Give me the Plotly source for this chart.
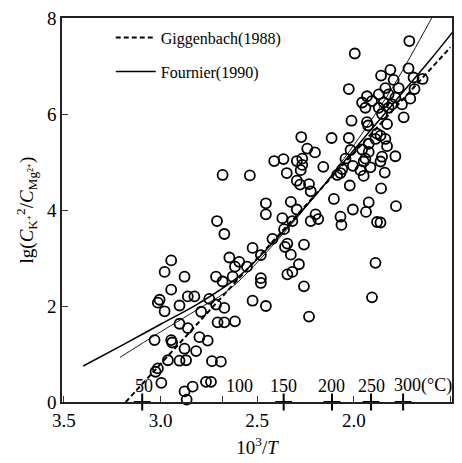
import plotly.graph_objects as go

# ---- data ----
x_pts = [1.713, 1.995, 1.811, 1.717, 1.859, 1.691, 1.644, 1.794, 2.026, 1.686,
         1.837, 1.768, 1.82, 1.871, 1.932, 1.708, 1.785, 1.957, 1.906, 1.845,
         1.803, 1.751, 1.871, 1.82, 1.94, 1.854, 1.742, 2.012, 1.932, 1.926,
         1.828, 1.88, 1.862, 2.115, 2.026, 1.888, 1.837, 1.828, 1.923, 2.017,
         1.957, 1.923, 2.043, 1.94, 1.949, 1.854, 1.862, 1.785, 2.005, 1.914,
         1.966, 2.06, 1.84, 1.949, 2.069, 2.086, 2.021, 1.859, 2.103, 1.923,
         2.005, 1.937, 1.782, 2.069, 2.064, 1.88, 1.862, 1.888, 1.906, 2.272,
         2.241, 2.201, 2.412, 2.364, 2.295, 2.267, 2.267, 2.275, 2.158, 2.679,
         2.538, 2.347, 2.295, 2.232, 2.278, 2.223, 2.455, 2.326, 2.455, 2.295,
         2.37, 2.198, 2.184, 2.223, 2.318, 2.708, 2.67, 2.361, 2.421, 2.344,
         2.356, 2.258, 2.524, 2.326, 2.481, 2.644, 2.593, 2.615, 2.284, 2.553,
         2.318, 2.344, 2.627, 2.713, 2.679, 2.481, 2.481, 2.258, 2.524, 2.455,
         2.713, 2.67, 2.705, 2.67, 2.615, 2.232, 2.734, 2.688, 2.945, 2.979,
         2.876, 2.945, 2.859, 2.825, 3.005, 3.014, 2.902, 2.748, 2.979, 2.79,
         2.902, 2.859, 3.031, 2.945, 2.94, 2.799, 2.756, 2.876, 2.816, 2.962,
         2.902, 2.868, 3.014, 3.026, 2.996, 2.765, 2.739, 2.834, 2.876, 2.865]
y_pts = [7.52, 7.26, 6.92, 6.95, 6.80, 6.76, 6.73, 6.71, 6.52, 6.52,
         6.54, 6.54, 6.41, 6.41, 6.37, 6.32, 6.34, 6.24, 6.27, 6.24,
         6.20, 6.20, 6.13, 6.13, 6.13, 6.00, 5.93, 5.86, 5.83, 5.76,
         5.79, 5.59, 5.55, 5.50, 5.50, 5.48, 5.48, 5.33, 5.38, 5.25,
         5.26, 5.21, 5.07, 5.07, 5.01, 5.11, 5.01, 5.12, 4.92, 4.89,
         4.83, 4.85, 4.78, 4.71, 4.77, 4.73, 4.51, 4.45, 4.23, 4.16,
         4.01, 3.96, 4.08, 3.86, 3.69, 3.75, 3.74, 2.90, 2.18, 5.52,
         5.28, 5.20, 5.02, 5.06, 5.02, 5.07, 4.94, 4.83, 4.90, 4.73,
         4.72, 4.77, 4.61, 4.54, 4.53, 4.39, 4.14, 4.17, 3.91, 4.01,
         3.83, 3.91, 3.81, 3.77, 3.77, 3.77, 3.50, 3.60, 3.40, 3.30,
         3.23, 3.28, 3.21, 3.07, 3.06, 3.01, 2.92, 2.82, 2.87, 2.82,
         2.71, 2.66, 2.61, 2.61, 2.51, 2.58, 2.48, 2.41, 2.11, 2.00,
         2.03, 1.96, 1.66, 1.66, 1.68, 1.78, 0.85, 0.84, 2.95, 2.71,
         2.61, 2.34, 2.20, 2.20, 2.13, 2.07, 2.01, 2.15, 1.89, 1.88,
         1.63, 1.54, 1.29, 1.29, 1.24, 1.35, 1.28, 1.11, 1.06, 0.87,
         0.86, 0.87, 0.70, 0.63, 0.40, 0.42, 0.42, 0.32, 0.22, 0.05]

gig_x = [3.18, 1.50]
gig_y = [0.00, 7.39]

four_x = [3.40, 3.20, 3.00, 2.80, 2.60, 2.40, 2.20, 2.00, 1.80, 1.60, 1.49]
four_y = [0.75, 1.18, 1.62, 2.06, 2.60, 3.40, 4.30, 5.25, 6.20, 7.15, 7.70]

thin_x = [3.21, 3.00, 2.80, 2.64, 2.40, 2.20, 2.00, 1.80, 1.70, 1.597]
thin_y = [0.93, 1.46, 1.95, 2.36, 3.35, 4.30, 5.35, 6.55, 7.25, 8.00]

temp_pos = [3.095, 2.680, 2.363, 2.113, 1.911, 1.745]
temp_labels = ["50", "100", "150", "200", "250", "300(°C)"]
temp_label_x = [3.085, 2.672, 2.363, 2.113, 1.911, 1.802]
temp_anchor = ["center", "left", "center", "center", "center", "left"]

x_tickvals = [3.5, 3.0, 2.68, 2.5, 2.0, 1.5]
x_ticktext = ["3.5", "3.0", "", "2.5", "2.0", "1.5"]
y_tickvals = [0, 2, 4, 6, 8]

FONT = "Times New Roman, Liberation Serif, serif"

fig = go.Figure()

fig.add_trace(go.Scatter(
    x=x_pts, y=y_pts, mode="markers", showlegend=False, cliponaxis=False,
    marker=dict(symbol="circle-open", size=10, color="black",
                line=dict(width=1.8, color="black"))))

fig.add_trace(go.Scatter(
    x=gig_x, y=gig_y, mode="lines", name="Giggenbach(1988)", legendgroup="g",
    line=dict(color="black", width=2, dash="5px,3px")))

fig.add_trace(go.Scatter(
    x=four_x, y=four_y, mode="lines", name="Fournier(1990)", legendgroup="f",
    line=dict(color="black", width=1.5, shape="spline")))

fig.add_trace(go.Scatter(
    x=thin_x, y=thin_y, mode="lines", showlegend=False,
    line=dict(color="black", width=0.9, shape="spline")))

plus_x = [p for p, l in zip(temp_pos, temp_labels) if l != "100"]
fig.add_trace(go.Scatter(
    x=plus_x, y=[0] * len(plus_x), mode="markers", showlegend=False,
    cliponaxis=False,
    marker=dict(symbol="cross-thin", size=12, color="black",
                line=dict(width=2, color="black"))))

for lx, lab, anc in zip(temp_label_x, temp_labels, temp_anchor):
    fig.add_annotation(x=lx, y=0.34, text=lab, showarrow=False, xanchor=anc,
                       yanchor="middle", font=dict(family=FONT, size=18, color="black"))

fig.update_layout(
    width=462, height=463,
    margin=dict(l=62, r=8, t=14, b=59),
    paper_bgcolor="white", plot_bgcolor="white",
    font=dict(family=FONT, color="black"),
    showlegend=True,
    legend=dict(x=0.125, y=0.993, xanchor="left", yanchor="top",
                bgcolor="rgba(0,0,0,0)", font=dict(family=FONT, size=16),
                tracegroupgap=10, itemwidth=40),
    xaxis=dict(range=[3.51, 1.492], tickvals=x_tickvals, ticktext=x_ticktext,
               ticks="inside", ticklen=6, tickwidth=1, tickcolor="#333",
               showline=True, linecolor="#222", linewidth=1.5, mirror=True,
               showgrid=False, zeroline=False,
               tickfont=dict(family=FONT, size=19),
               title=dict(text="10<sup>3</sup>/<i>T</i>", font=dict(family=FONT, size=19),
                          standoff=11)),
    yaxis=dict(range=[0, 8], tickvals=y_tickvals,
               ticks="inside", ticklen=6, tickwidth=1, tickcolor="#333",
               showline=True, linecolor="#222", linewidth=1.5, mirror=True,
               showgrid=False, zeroline=False,
               tickfont=dict(family=FONT, size=19),
               title=dict(text="lg(<i>C</i><sub>K⁺</sub><sup>2</sup>/<i>C</i><sub>Mg²⁺</sub>)",
                          font=dict(family=FONT, size=19), standoff=8)),
)

fig.write_html("out.html")
